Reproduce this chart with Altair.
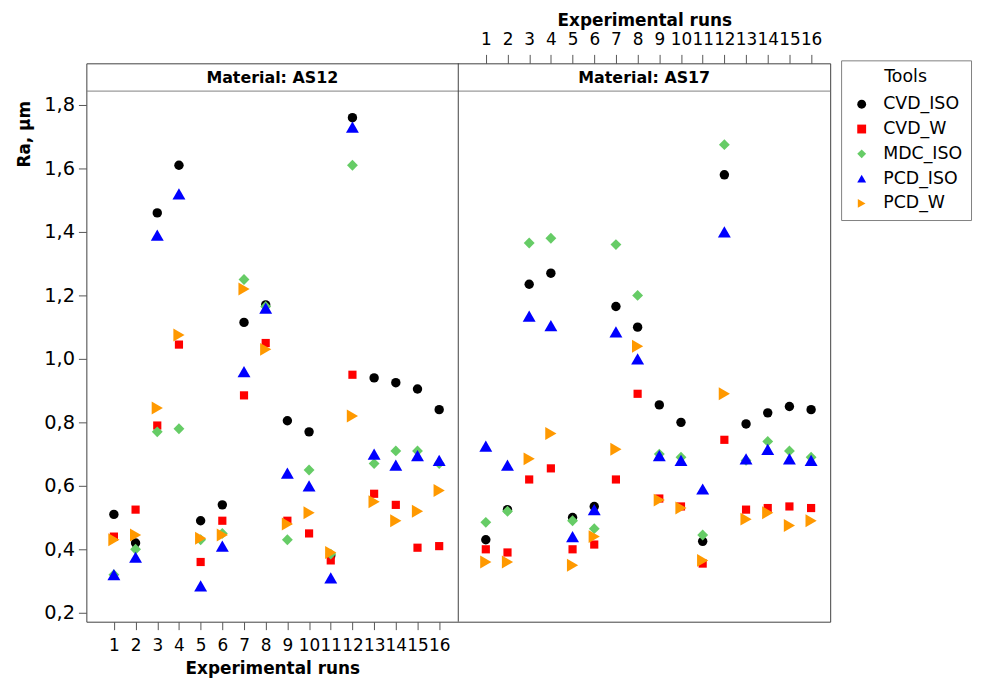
import altair as alt
import pandas as pd

FONT = "DejaVu Sans"

runs = list(range(1, 17))
tools = ["CVD_ISO", "CVD_W", "MDC_ISO", "PCD_ISO", "PCD_W"]
tool_colors = ["#000000", "#ff0000", "#66cc66", "#0000ff", "#ff9900"]
tool_shapes = ["circle", "square", "diamond", "triangle-up", "triangle-right"]
tool_sizes = [90, 68, 120, 170, 170]
headers = ["Material: AS12", "Material: AS17"]
y_ticks = [0.2, 0.4, 0.6, 0.8, 1.0, 1.2, 1.4, 1.6, 1.8]

# Material AS12
as12_cvd_iso = [0.51, 0.42, 1.46, 1.61, 0.49, 0.54, 1.115, 1.17, 0.805, 0.77, 0.38, 1.76, 0.94, 0.925, 0.905, 0.84]
as12_cvd_w = [0.44, 0.525, 0.79, 1.045, 0.36, 0.49, 0.885, 1.05, 0.49, 0.45, 0.365, 0.95, 0.575, 0.54, 0.405, 0.41]
as12_mdc_iso = [0.32, 0.40, 0.77, 0.78, 0.43, 0.45, 1.25, 1.165, 0.43, 0.65, 0.385, 1.61, 0.67, 0.71, 0.71, 0.67]
as12_pcd_iso = [0.32, 0.375, 1.39, 1.52, 0.285, 0.41, 0.96, 1.16, 0.64, 0.60, 0.31, 1.73, 0.70, 0.665, 0.695, 0.68]
as12_pcd_w = [0.43, 0.445, 0.845, 1.075, 0.435, 0.445, 1.22, 1.03, 0.48, 0.515, 0.39, 0.82, 0.55, 0.49, 0.52, 0.585]

# Material AS17
as17_cvd_iso = [0.43, 0.525, 1.235, 1.27, 0.50, 0.535, 1.165, 1.10, 0.855, 0.80, 0.425, 1.58, 0.795, 0.83, 0.85, 0.84]
as17_cvd_w = [0.40, 0.39, 0.62, 0.655, 0.40, 0.415, 0.62, 0.89, 0.56, 0.535, 0.355, 0.745, 0.525, 0.53, 0.535, 0.53]
as17_mdc_iso = [0.485, 0.52, 1.365, 1.38, 0.49, 0.465, 1.36, 1.20, 0.70, 0.69, 0.445, 1.675, 0.68, 0.74, 0.71, 0.69]
as17_pcd_iso = [0.725, 0.665, 1.135, 1.105, 0.44, 0.525, 1.085, 1.00, 0.695, 0.68, 0.59, 1.40, 0.685, 0.715, 0.685, 0.68]
as17_pcd_w = [0.36, 0.36, 0.685, 0.765, 0.35, 0.44, 0.715, 1.04, 0.555, 0.53, 0.365, 0.89, 0.495, 0.515, 0.475, 0.49]

as12 = [as12_cvd_iso, as12_cvd_w, as12_mdc_iso, as12_pcd_iso, as12_pcd_w]
as17 = [as17_cvd_iso, as17_cvd_w, as17_mdc_iso, as17_pcd_iso, as17_pcd_w]


def panel_df(material, series):
    rows = []
    for tool, vals in zip(tools, series):
        for r, v in zip(runs, vals):
            rows.append({"material": material, "tool": tool, "run": r, "ra": v})
    return pd.DataFrame(rows)


df12 = panel_df("AS12", as12)
df17 = panel_df("AS17", as17)

# each panel spans SPAN units of the shared x scale
X_MIN = -0.27
SPAN = 17.15
W, H = 750, 563

x_scale = alt.Scale(domain=[X_MIN, X_MIN + 2 * SPAN], nice=False, zero=False)
y_scale = alt.Scale(domain=[0.171875, 1.93125], nice=False, zero=False)

y_axis = alt.Axis(
    values=y_ticks,
    labelExpr="replace(format(datum.value, '.1f'), '.', ',')",
    grid=False, domain=False, tickSize=8, tickColor="#555555",
    labelFontSize=19.5, labelPadding=4, labelColor="#000000",
    title="Ra, µm", titleFontSize=17, titleFontWeight="bold", titleColor="#000000",
    titleAngle=-90, titleAlign="center", titleBaseline="middle",
    titleX=-62, titleY=71,
)

common_x = dict(grid=False, domain=False, tickColor="#555555",
                labelFontSize=17, labelColor="#000000", labelAngle=0,
                labelOverlap=False, labelFlush=False, labelBound=False,
                title="Experimental runs", titleFontSize=17,
                titleFontWeight="bold", titleColor="#000000")

bottom_axis = alt.Axis(orient="bottom", values=runs, tickSize=8, labelPadding=8,
                       titlePadding=7, titleX=W / 4, format="d", **common_x)
top_axis = alt.Axis(orient="top", values=[r + SPAN for r in runs], tickSize=9,
                    labelPadding=6, titleX=3 * W / 4, titleY=-43,
                    titleBaseline="middle",
                    labelExpr=f"format(round(datum.value - {SPAN}), 'd')",
                    **common_x)

color = alt.Color("tool:N", scale=alt.Scale(domain=tools, range=tool_colors),
                  legend=alt.Legend(title="Tools"))
shape = alt.Shape("tool:N", scale=alt.Scale(domain=tools, range=tool_shapes),
                  legend=alt.Legend(title="Tools"))


def points(df, tool, size, axis, offset):
    return (
        alt.Chart(df)
        .transform_filter(alt.datum.tool == tool)
        .transform_calculate(xpos=f"datum.run + {offset}")
        .mark_point(filled=True, opacity=1, strokeWidth=0, size=size)
        .encode(
            x=alt.X("xpos:Q", scale=x_scale, axis=axis),
            y=alt.Y("ra:Q", scale=y_scale, axis=y_axis),
            color=color, shape=shape,
        )
    )


point_layers = []
for i, (tool, sz) in enumerate(zip(tools, tool_sizes)):
    point_layers.append(points(df12, tool, sz, bottom_axis if i == 0 else None, 0))
    point_layers.append(points(df17, tool, sz, top_axis if i == 0 else None, SPAN))

one = pd.DataFrame({"k": [0]})
header_line = alt.Chart(one).mark_rule(color="#808080", strokeWidth=1).encode(
    x=alt.value(0), x2=alt.value(W), y=alt.value(28))
divider = alt.Chart(one).mark_rule(color="#404040", strokeWidth=1).encode(
    x=alt.value(W / 2), y=alt.value(0), y2=alt.value(H))
header_texts = [
    alt.Chart(one).mark_text(font=FONT, fontSize=16, fontWeight="bold", color="#000000",
                             baseline="middle", align="center").encode(
        x=alt.value(W / 4 + i * W / 2), y=alt.value(14.5), text=alt.value(h))
    for i, h in enumerate(headers)
]

chart = (
    alt.layer(*point_layers, header_line, divider, *header_texts)
    .resolve_scale(x="shared", y="shared")
    .resolve_axis(x="independent")
    .properties(width=W, height=H,
                autosize=alt.AutoSizeParams(type="none"),
                padding={"left": 79, "top": 53, "right": 145, "bottom": 56})
    .configure_axis(labelFont=FONT, titleFont=FONT)
    .configure_view(stroke="#404040", strokeWidth=1)
    .configure_legend(orient="none", legendX=761, legendY=-3,
                      strokeColor="#808080", fillColor="#ffffff", padding=8,
                      titleFont=FONT, labelFont=FONT,
                      titleFontSize=17.5, labelFontSize=17.5,
                      titleFontWeight="normal", titleColor="#000000",
                      labelColor="#000000", titleAnchor="middle",
                      titlePadding=10, rowPadding=6,
                      symbolSize=80, symbolOffset=4, labelOffset=13,
                      symbolStrokeWidth=0)
)

chart.save("out.html", embed_options={"renderer": "svg", "actions": False})
